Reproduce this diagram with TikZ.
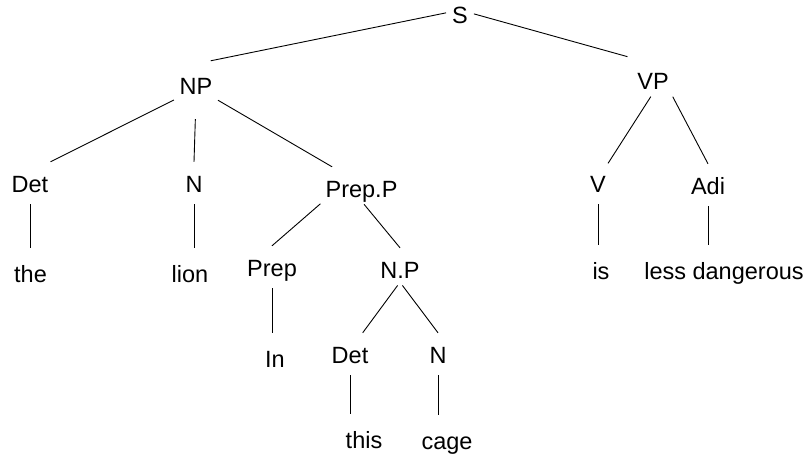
\documentclass[tikz,border=0pt]{standalone}
\usepackage{fontspec}
\setmainfont{Liberation Sans}
\usetikzlibrary{calc}

\tikzset{
  word/.style={anchor=base, inner xsep=2pt, inner ysep=4pt,
    text height=26pt, text depth=0pt, font=\fontsize{23.5}{28}\selectfont},
  branch/.style={line width=0.9pt, shorten <=4pt},
  stem/.style={line width=0.9pt, shorten <=8pt, shorten >=4pt}
}

\begin{document}
\begin{tikzpicture}[x=1pt, y=-1pt]
  \useasboundingbox (0,0) rectangle (810,458);

%phrases
    \foreach \name/\x/\y/\txt in { s/460/23/S, np/196/94/NP, vp/653/89/VP,
        det1/30/192/Det, n1/194/192/N, prepp/361.5/197/Prep.P,
        v/598/192/V, adj/708/194/Adi,
        prep/272/276/Prep, np2/400/278/N.P,
        det2/350/363/Det, n2/438/363/N} {
         \node[word] (\name) at (\x,\y) {\txt};
    }

%words
    \foreach \name/\x/\y/\txt in { wthe/30.5/282/the, wlion/190/282/lion,
        wis/601/279/is, wless/724/279/less dangerous,
        win/275/367/In, wthis/364/448/this, wcage/447/449/cage} {
         \node[word] (\name) at (\x,\y) {\txt};
    }

%branches
  \draw[branch, shorten >=15pt] (s) -- (np.north);
  \draw[branch, shorten >=8pt] (s) -- (vp.north west);
  \draw[branch] (np.south west) -- (det1.north east);
  \draw[branch, shorten <=21pt] (np.south) -- (n1.north);
  \draw[branch] (np.south east) -- (prepp);
  \draw[branch] (prepp.south west) -- (prep.north);
  \draw[branch] (prepp.south) -- (np2.north);
  \draw[branch] (np2.south) -- (det2);
  \draw[branch] (np2.south) -- (n2.north);
  \draw[branch] (vp.south) -- (v);
  \draw[branch] (vp.south east) -- (adj.north);

%stems
    \foreach \a/\b in { det1/wthe, n1/wlion, v/wis, adj/wless,
        prep/win, det2/wthis, n2/wcage} {
         \draw[stem] (\a.south) -- (\a.south |- \b.north);
    }

\end{tikzpicture}
\end{document}
